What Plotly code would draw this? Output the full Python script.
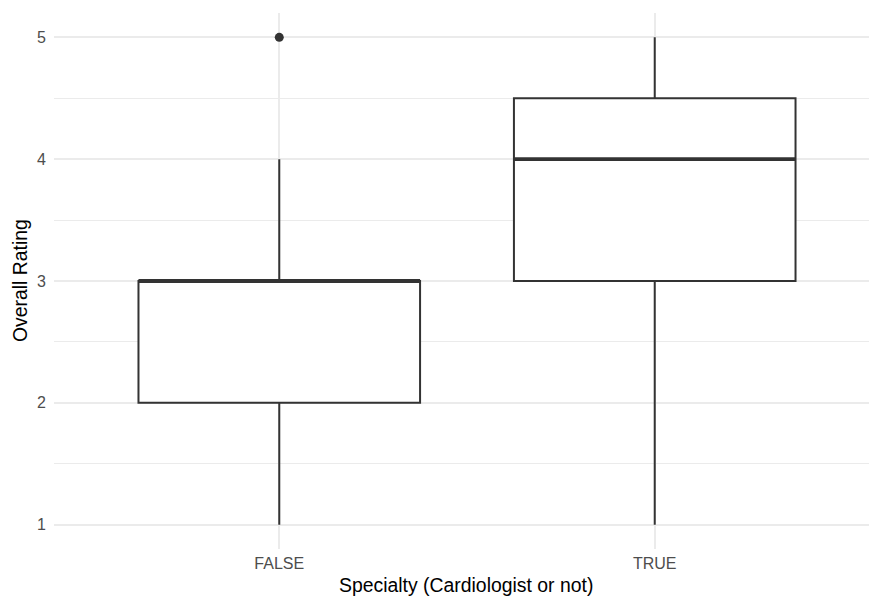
import plotly.graph_objects as go

categories = ["FALSE", "TRUE"]
positions = [1, 2]
lower_whisker = [1, 1]
q1_values = [2, 3]
medians = [3, 4]
q3_values = [3, 4.5]
upper_whisker = [4, 5]
outlier_cat = ["FALSE"]
outlier_values = [5]

line_col = "#333333"
fig = go.Figure()
half = 0.375
for pos, lo, a, m, b, hi in zip(positions, lower_whisker, q1_values, medians, q3_values, upper_whisker):
    fig.add_trace(go.Box(
        x=[pos], q1=[a], median=[m], q3=[b], lowerfence=[lo], upperfence=[hi],
        width=0.75, whiskerwidth=0, fillcolor="white",
        line=dict(color=line_col, width=2), boxpoints=False, showlegend=False,
        hoverinfo="skip"))
    fig.add_trace(go.Scatter(
        x=[pos - half, pos + half], y=[m, m], mode="lines",
        line=dict(color=line_col, width=3.8), showlegend=False, hoverinfo="skip"))

pos_map = dict(zip(categories, positions))
fig.add_trace(go.Scatter(
    x=[pos_map[c] for c in outlier_cat], y=outlier_values, mode="markers",
    marker=dict(color=line_col, size=9), showlegend=False))

font = "Liberation Sans, Arial, sans-serif"
fig.update_layout(
    width=869, height=588,
    margin=dict(l=46, r=0, t=5, b=47),
    paper_bgcolor="white", plot_bgcolor="white",
    font=dict(family=font, color="black"),
    xaxis=dict(range=[0.4, 2.592], tickvals=positions, ticktext=categories,
               showgrid=True, gridcolor="#EBEBEB", gridwidth=1.9, zeroline=False,
               showline=False, ticks="outside", ticklen=0, tickcolor="rgba(0,0,0,0)",
               tickfont=dict(size=16, color="#4D4D4D")),
    yaxis=dict(range=[0.8, 5.2], tickvals=[1, 2, 3, 4, 5],
               showgrid=True, gridcolor="#EBEBEB", gridwidth=1.9, zeroline=False,
               showline=False, ticks="outside", ticklen=4, tickcolor="rgba(0,0,0,0)",
               tickfont=dict(size=16, color="#4D4D4D"),
               minor=dict(tickvals=[1.5, 2.5, 3.5, 4.5], showgrid=True, gridcolor="#EBEBEB", gridwidth=1)),
    annotations=[
        dict(text="Specialty (Cardiologist or not)", xref="paper", yref="paper",
             x=0.5, y=-36 / 536, xanchor="center", yanchor="middle", showarrow=False,
             font=dict(size=19.4, color="black")),
        dict(text="Overall Rating", xref="paper", yref="paper",
             x=-34 / 823, y=0.5, xanchor="center", yanchor="middle", showarrow=False,
             textangle=-90, font=dict(size=19.4, color="black")),
    ],
)
fig.write_html("out.html")
